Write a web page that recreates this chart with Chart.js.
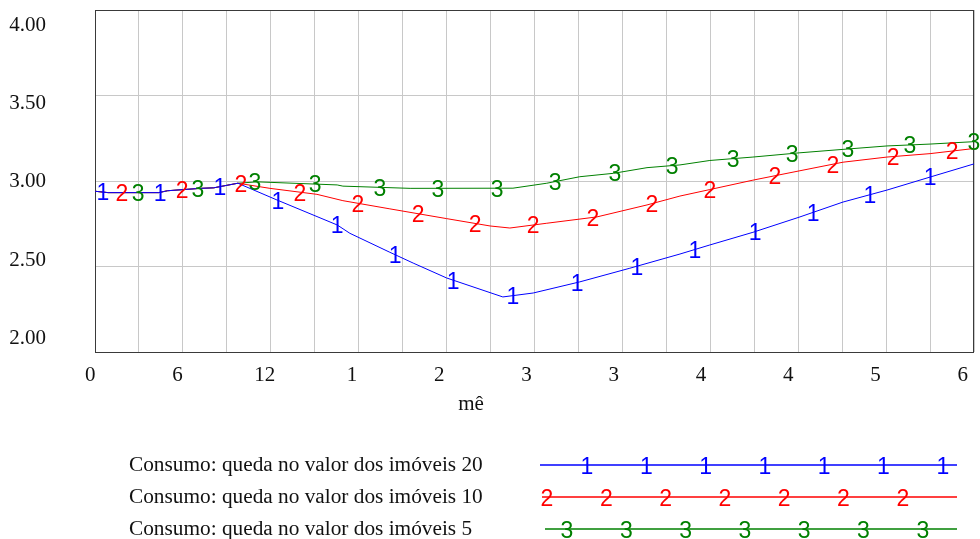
<!DOCTYPE html>
<html>
<head>
<meta charset="utf-8">
<script src="https://cdn.jsdelivr.net/npm/chart.js@4.4.1/dist/chart.umd.min.js"></script>
<style>
  html, body { margin: 0; padding: 0; background: #fff; }
  #wrap { width: 980px; height: 539px; }
</style>
</head>
<body>
<div id="wrap"><canvas id="myChart" width="980" height="539"></canvas></div>
<script>
// eixo x em divisões da grade (0..20), rótulos como aparecem no gráfico
const xTickLabels = ['0', '6', '12', '1', '2', '3', '3', '4', '4', '5', '6'];
const yTickValues = [2.0, 2.5, 3.0, 3.5, 4.0];
const xTitle = 'mê';

const seriesNames = [
  'Consumo: queda no valor dos imóveis 20',
  'Consumo: queda no valor dos imóveis 10',
  'Consumo: queda no valor dos imóveis 5'
];
const seriesTags = ['1', '2', '3'];

// serie 1 (20)
const s1X = [0, 0.3, 1.45, 1.65, 2.4, 2.7, 3.25, 4.14, 5.51, 5.8, 6.71, 7.24, 8.0, 9.28, 9.97, 11.03, 12.17, 13.31, 13.99, 14.97, 16.04, 17.02, 18.02, 19.0, 20];
const s1Y = [2.94, 2.932, 2.932, 2.943, 2.957, 2.96, 2.987, 2.889, 2.743, 2.694, 2.583, 2.52, 2.433, 2.322, 2.345, 2.41, 2.49, 2.573, 2.626, 2.70, 2.79, 2.877, 2.947, 3.023, 3.10];
// serie 2 (10)
const s2X = [0, 0.3, 1.45, 1.65, 2.4, 2.7, 3.25, 3.98, 5.05, 5.64, 6.71, 8.0, 8.99, 9.44, 10.28, 11.42, 12.56, 13.31, 13.99, 14.97, 16.04, 17.02, 18.02, 19.0, 20];
const s2Y = [2.94, 2.932, 2.932, 2.943, 2.957, 2.96, 2.987, 2.957, 2.922, 2.885, 2.837, 2.78, 2.737, 2.725, 2.753, 2.79, 2.86, 2.912, 2.95, 3.005, 3.06, 3.11, 3.14, 3.16, 3.19];
// serie 3 (5)
const s3X = [0, 0.3, 1.45, 1.65, 2.4, 2.7, 3.25, 3.69, 5.51, 5.64, 7.17, 9.51, 10.28, 11.03, 11.8, 12.56, 13.31, 13.99, 14.97, 16.04, 17.02, 18.02, 19.0, 20];
const s3Y = [2.94, 2.932, 2.932, 2.943, 2.957, 2.96, 2.987, 2.995, 2.977, 2.97, 2.957, 2.958, 2.987, 3.025, 3.045, 3.078, 3.094, 3.12, 3.14, 3.165, 3.185, 3.205, 3.216, 3.23];

// onde ficam os numeros sobre as linhas
const m1X = [0.18, 1.48, 2.84, 4.16, 5.51, 6.83, 8.15, 9.51, 10.97, 12.33, 13.65, 15.02, 16.34, 17.63, 19.0];
const m2X = [0.61, 1.98, 3.32, 4.66, 5.98, 7.35, 8.65, 9.97, 11.33, 12.67, 13.99, 15.47, 16.79, 18.16, 19.5];
const m3X = [0.98, 2.34, 3.64, 5.01, 6.48, 7.80, 9.15, 10.47, 11.83, 13.13, 14.52, 15.86, 17.13, 18.54, 20.0];
const markerX = [m1X, m2X, m3X];

const colors = ['#0000ff', '#ff0000', '#008000'];
const serif = '"Liberation Serif", "Times New Roman", serif';
const sans = '"Liberation Sans", Arial, sans-serif';

function pts(xs, ys) { return xs.map((x, i) => ({ x: x, y: ys[i] })); }

const caixa = {
  id: 'caixa',
  beforeDatasetsDraw(chart) {
    const a = chart.chartArea, c = chart.ctx;
    c.save();
    c.strokeStyle = '#3a3a3a';
    c.lineWidth = 1;
    c.strokeRect(Math.round(a.left) + 0.5, Math.round(a.top) + 0.5,
                 Math.round(a.right - a.left) - 1, Math.round(a.bottom - a.top));
    c.restore();
  }
};

const marcadores = {
  id: 'marcadores',
  afterDatasetsDraw(chart) {
    const c = chart.ctx, xs = chart.scales.x;
    c.save();
    c.font = '23px ' + sans;
    c.textAlign = 'center';
    c.textBaseline = 'middle';
    chart.data.datasets.forEach((ds, i) => {
      const p = chart.getDatasetMeta(i).data;
      c.fillStyle = ds.borderColor;
      markerX[i].forEach(v => {
        const px = xs.getPixelForValue(v);
        let k = 0;
        while (k < p.length - 2 && p[k + 1].x < px) k++;
        const a = p[k], b = p[k + 1];
        let t = (px - a.x) / (b.x - a.x);
        t = Math.min(Math.max(t, 0), 1);
        c.fillText(seriesTags[i], px, a.y + (b.y - a.y) * t + 2);
      });
    });
    c.restore();
  }
};

const legenda = {
  id: 'legenda',
  afterDraw(chart) {
    const c = chart.ctx;
    c.save();
    c.textBaseline = 'middle';
    c.fillStyle = '#111';
    c.font = '21px ' + serif;
    c.textAlign = 'center';
    c.fillText(xTitle, 471, 404);

    const rowY = [465, 497, 529];
    const lineX0 = [540, 542, 545];
    const tagX0 = [587, 547, 567];
    chart.data.datasets.forEach((ds, i) => {
      const cor = ds.borderColor;
      c.fillStyle = '#111';
      c.font = '21.3px ' + serif;
      c.textAlign = 'left';
      c.fillText(seriesNames[i], 129, rowY[i]);

      c.beginPath();
      c.strokeStyle = cor;
      c.lineWidth = 1.4;
      c.moveTo(lineX0[i], rowY[i]);
      c.lineTo(957, rowY[i]);
      c.stroke();

      c.fillStyle = cor;
      c.font = '23px ' + sans;
      c.textAlign = 'center';
      for (let k = 0; k < 7; k++) {
        c.fillText(seriesTags[i], tagX0[i] + k * 59.3, rowY[i] + 3);
      }
    });
    c.restore();
  }
};

const myChart = new Chart(document.getElementById('myChart').getContext('2d'), {
  type: 'line',
  data: {
    datasets: [
      { label: seriesNames[0], data: pts(s1X, s1Y), borderColor: colors[0] },
      { label: seriesNames[1], data: pts(s2X, s2Y), borderColor: colors[1] },
      { label: seriesNames[2], data: pts(s3X, s3Y), borderColor: colors[2] }
    ].map(d => Object.assign(d, { borderWidth: 1, pointRadius: 0, tension: 0, fill: false, xAxisID: 'x', yAxisID: 'y' }))
  },
  options: {
    responsive: false,
    devicePixelRatio: 1,
    animation: false,
    events: [],
    layout: { padding: { top: 10, right: 6, left: 0, bottom: 0 } },
    plugins: { legend: { display: false }, tooltip: { enabled: false } },
    scales: {
      x: {
        type: 'linear', position: 'bottom', min: 0, max: 20,
        ticks: { display: false, stepSize: 1 },
        grid: { color: '#c8c8c8', drawTicks: false },
        border: { display: false },
        afterFit: s => { s.height = 0; s.paddingLeft = 0; s.paddingRight = 0; }
      },
      x2: {
        type: 'linear', position: 'bottom', min: 0.108, max: 20.259, weight: 1,
        afterBuildTicks: s => { s.ticks = xTickLabels.map((l, i) => ({ value: i * 2 })); },
        ticks: {
          autoSkip: false, maxRotation: 0, padding: 11, color: '#111',
          font: { family: serif, size: 21 },
          callback: (v, i) => xTickLabels[i]
        },
        grid: { display: false, drawTicks: false },
        border: { display: false },
        afterFit: s => { s.height = 187; s.paddingLeft = 0; s.paddingRight = 0; }
      },
      y: {
        type: 'linear', position: 'left', min: 2, max: 4,
        ticks: { display: false, stepSize: 0.5 },
        grid: { color: '#c8c8c8', drawTicks: false },
        border: { display: false },
        afterFit: s => { s.width = 0; s.paddingTop = 0; s.paddingBottom = 0; }
      },
      y2: {
        type: 'linear', position: 'left', min: 1.911, max: 4.1005, weight: 1,
        afterBuildTicks: s => { s.ticks = yTickValues.map(v => ({ value: v })); },
        ticks: {
          padding: 49, color: '#111',
          font: { family: serif, size: 21 },
          callback: v => v.toFixed(2)
        },
        grid: { display: false, drawTicks: false },
        border: { display: false },
        afterFit: s => { s.width = 95; s.paddingTop = 0; s.paddingBottom = 0; }
      }
    }
  },
  plugins: [caixa, marcadores, legenda]
});
</script>
</body>
</html>
